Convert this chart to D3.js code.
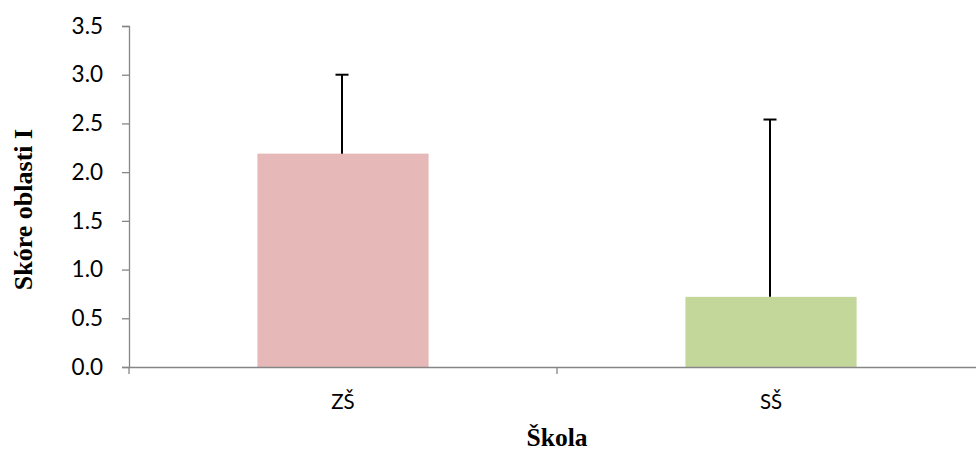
<!DOCTYPE html>
<html><head><meta charset="utf-8">
<script src="https://cdn.jsdelivr.net/npm/d3@7"></script>
<style>body{margin:0;background:#fff}svg{display:block}</style>
</head><body>
<script>
const categories = ["ZŠ", "SŠ"];
const means = [2.19, 0.72];
const errors = [0.81, 1.82];
const colors = ["#E6B9B8", "#C4D79B"];
const yTicks = [0, 0.5, 1.0, 1.5, 2.0, 2.5, 3.0, 3.5];

const W = 976, H = 451;
const m = {left: 129, right: -9, top: 26, bottom: 84};
const svg = d3.select("body").append("svg").attr("width", W).attr("height", H);
const y = d3.scaleLinear().domain([0, 3.5]).range([H - m.bottom, m.top]);
const x = d3.scaleBand().domain(categories).range([m.left, W - m.right]).paddingInner(0).paddingOuter(0);
const barW = x.bandwidth() * 0.4;

const gY = svg.append("g").attr("transform", `translate(${m.left},0)`)
  .call(d3.axisLeft(y).tickValues(yTicks).tickFormat(d3.format(".1f")).tickSize(7).tickPadding(19));
gY.selectAll("path,line").attr("stroke", "#868686").attr("stroke-width", 1.3);
gY.selectAll("text").attr("font-family", "Lato, 'Open Sans', sans-serif").attr("font-size", 22.5).attr("fill", "#000");

svg.selectAll("rect.bar").data(categories).enter().append("rect")
  .attr("x", d => x(d) + x.bandwidth() / 2 - barW / 2)
  .attr("width", barW)
  .attr("y", (d, i) => y(means[i]))
  .attr("height", (d, i) => y(0) - y(means[i]))
  .attr("fill", (d, i) => colors[i]);

const gX = svg.append("g").attr("transform", `translate(0,${y(0)})`)
  .call(d3.axisBottom(x).tickSize(0));
gX.select("path").attr("stroke", "#868686").attr("stroke-width", 1.3);
gX.selectAll("text").attr("y", 42).attr("dy", 0).attr("font-family", "Lato, 'Open Sans', sans-serif").attr("font-size", 20.5).attr("fill", "#000");
// category boundary ticks
const bounds = [m.left, x(categories[1]), W - m.right];
svg.selectAll("line.bt").data(bounds).enter().append("line")
  .attr("x1", d => d).attr("x2", d => d)
  .attr("y1", y(0)).attr("y2", y(0) + 7)
  .attr("stroke", "#868686").attr("stroke-width", 1.3);

// error bars
categories.forEach((c, i) => {
  const cx = x(c) + x.bandwidth() / 2 - 1;
  svg.append("line").attr("x1", cx).attr("x2", cx)
    .attr("y1", y(means[i])).attr("y2", y(means[i] + errors[i]))
    .attr("stroke", "#000").attr("stroke-width", 2);
  svg.append("line").attr("x1", cx - 6.5).attr("x2", cx + 6.5)
    .attr("y1", y(means[i] + errors[i])).attr("y2", y(means[i] + errors[i]))
    .attr("stroke", "#000").attr("stroke-width", 2);
});

svg.append("text").attr("transform", `translate(32,${(y(0) + y(3.5)) / 2 + 13}) rotate(-90)`)
  .attr("text-anchor", "middle").attr("font-family", "'Liberation Serif', 'Times New Roman', serif")
  .attr("font-weight", "bold").attr("font-size", 26).text("Skóre oblasti I");
svg.append("text").attr("x", 557).attr("y", 446)
  .attr("text-anchor", "middle").attr("font-family", "'Liberation Serif', 'Times New Roman', serif")
  .attr("font-weight", "bold").attr("font-size", 25.5).text("Škola");
</script>
</body></html>
